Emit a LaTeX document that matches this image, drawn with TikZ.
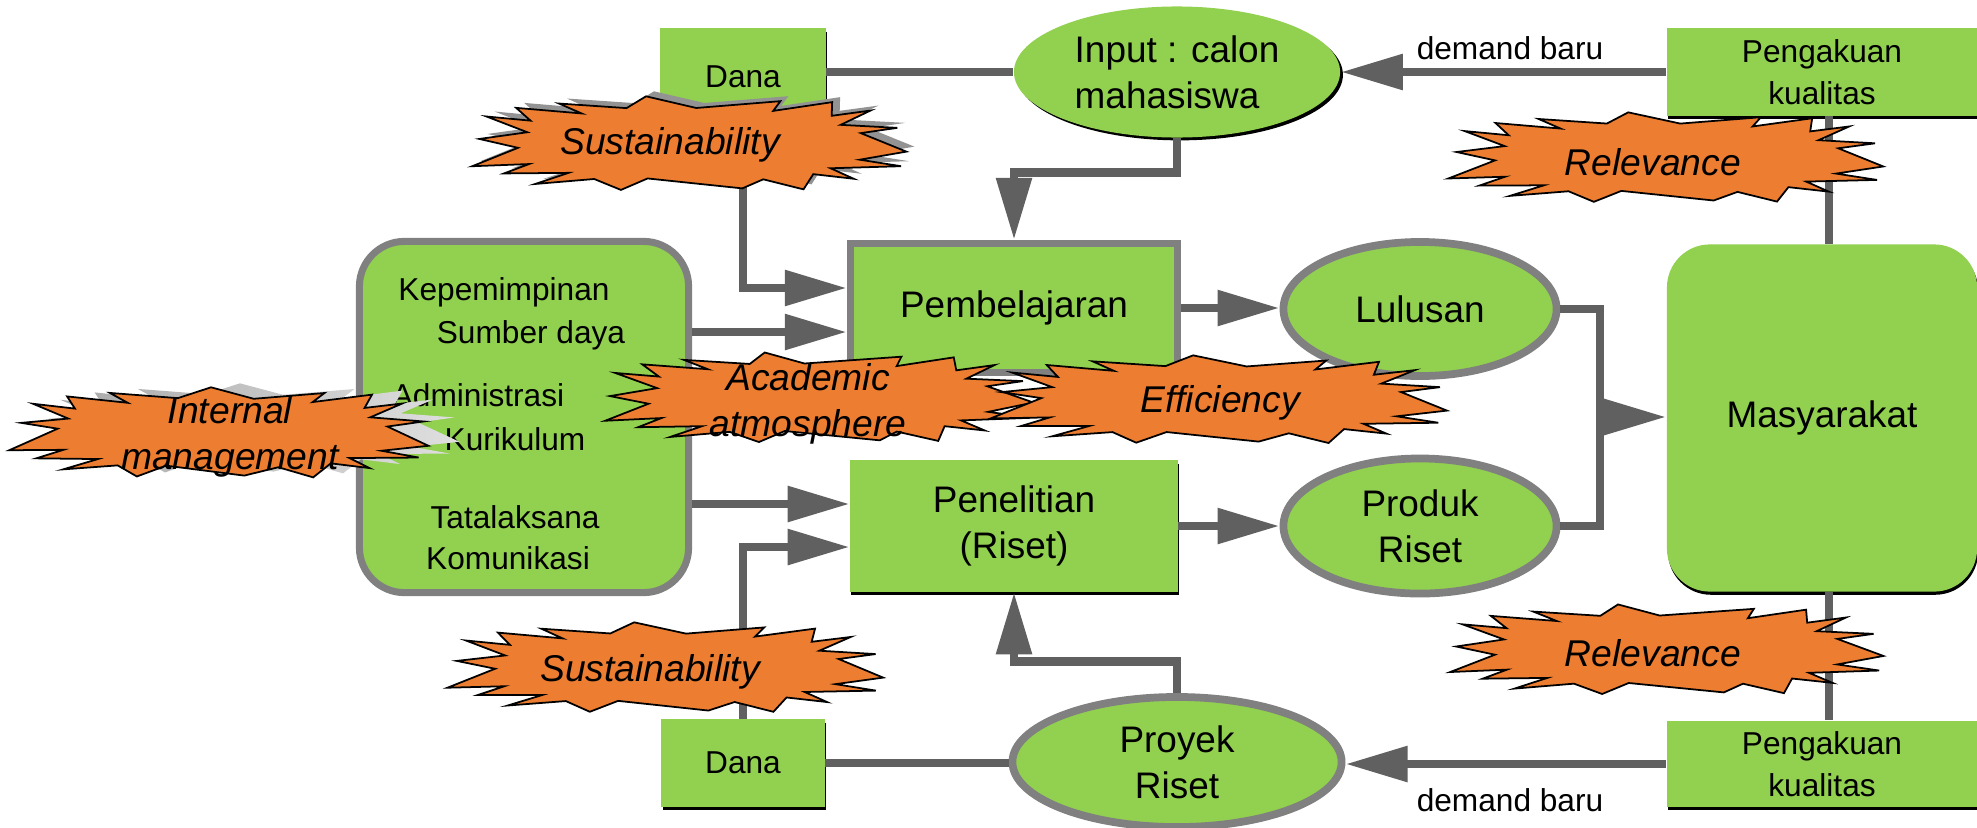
\documentclass[tikz,border=0pt]{standalone}
\usepackage{fontspec}
\setmainfont{Liberation Sans}
\usetikzlibrary{arrows.meta,shapes.geometric,shadows}

\definecolor{boxgreen}{RGB}{146,208,80}
\definecolor{burstorange}{RGB}{237,125,49}
\definecolor{linegray}{RGB}{96,96,96}
\definecolor{rimgray}{RGB}{128,128,128}

\tikzset{
  bigtext/.style={font=\fontsize{10.5}{13}\selectfont},
  smalltext/.style={font=\fontsize{9}{12}\selectfont},
  flatbox/.style={rectangle, fill=boxgreen, inner sep=0pt, align=center,
    drop shadow={shadow xshift=0.3pt, shadow yshift=-0.9pt, opacity=1, fill=black}},
  rimbox/.style={rectangle, fill=boxgreen, draw=rimgray, line width=2pt, inner sep=0pt, align=center},
  rimoval/.style={ellipse, fill=boxgreen, draw=rimgray, line width=2.2pt, inner sep=0pt, align=center, bigtext},
  link/.style={draw=linegray, line width=2.5pt},
  flow/.style={link, -{Triangle[length=6.2mm, width=3.4mm]}},
  burstfill/.style={fill=burstorange, draw=black, line width=0.5pt, line join=miter},
  bursttext/.style={inner sep=0pt, align=center, font=\fontsize{10.6}{13}\selectfont\itshape},
  declare function={sqc(\t)=sign(cos(\t))*pow(abs(cos(\t))+0.001,0.7);
                    sqs(\t)=sign(sin(\t))*pow(abs(sin(\t))+0.001,0.7);},
  % jagged explosion outline: half width, half height, phase
  pics/burst/.style n args={3}{code={
    \path[pic actions] plot[samples at={0,...,35}, variable=\k]
      ({#1*(1-0.22*mod(\k,2))*(1+0.04*sin(\k*73+#3))*sqc(\k*10+#3+4*sin(\k*131+#3))},
       {#2*(1-0.22*mod(\k,2))*(1+0.04*sin(\k*73+#3))*sqs(\k*10+#3+4*sin(\k*131+#3))}) -- cycle;
  }},
}

\begin{document}
\begin{tikzpicture}[x=0.01cm, y=-0.01cm]
\useasboundingbox (0,0) rectangle (1977,827);

% top row
\node[flatbox, smalltext, minimum width=1.65cm, minimum height=0.97cm] (danaT) at (743,77) {Dana};
\node[ellipse, fill=boxgreen, inner sep=0pt, align=left, bigtext,
  drop shadow={shadow xshift=0.8pt, shadow yshift=-0.8pt, opacity=1, fill=black},
  minimum width=3.26cm, minimum height=1.31cm] (input) at (1177,72) {Input : calon\\mahasiswa};
\node[flatbox, smalltext, minimum width=3.1cm, minimum height=0.87cm] (pengT) at (1822,72) {Pengakuan\\kualitas};
\node[smalltext] (demT) at (1510,48) {demand baru};

% middle
\node[rimbox, bigtext, minimum width=3.27cm, minimum height=1.29cm] (pemb) at (1014,308) {Pembelajaran};
\node[rimoval, minimum width=2.73cm, minimum height=1.34cm] (lulus) at (1420,309) {Lulusan};
\node[flatbox, bigtext, minimum width=3.27cm, minimum height=1.31cm] (pen) at (1014,526) {Penelitian\\(Riset)};
\node[rimoval, minimum width=2.73cm, minimum height=1.35cm] (produk) at (1420,526) {Produk\\Riset};
\node[flatbox, bigtext, rounded corners=0.43cm, minimum width=3.1cm, minimum height=3.47cm] (masy) at (1822,418) {Masyarakat};

% management block
\node[rimbox, rounded corners=0.45cm, minimum width=3.29cm, minimum height=3.51cm] (mgmt) at (524,417) {};
\foreach \name/\pos/\txt in {kep/{504,292}/Kepemimpinan, sum/{531,335}/Sumber daya,
    adm/{478,395}/Administrasi, kur/{515,439}/Kurikulum,
    tata/{515,517}/Tatalaksana, kom/{508,558}/Komunikasi}
  \node[smalltext] (\name) at (\pos) {\txt};

% bottom row
\node[flatbox, smalltext, minimum width=1.63cm, minimum height=0.87cm] (danaB) at (743,763) {Dana};
\node[rimoval, minimum width=3.29cm, minimum height=1.3cm] (proyek) at (1177,762) {Proyek\\Riset};
\node[flatbox, smalltext, minimum width=3.1cm, minimum height=0.86cm] (pengB) at (1822,764) {Pengakuan\\kualitas};
\node[smalltext] (demB) at (1510,800) {demand baru};

% connectors
\coordinate (pembA) at ([yshift=2mm]pemb.west);
\coordinate (pembB) at ([yshift=-2.4mm]pemb.west);
\coordinate (penA) at ([yshift=2.2mm]pen.west);
\coordinate (penB) at ([yshift=-2.1mm]pen.west);
\coordinate (join) at (1600,417);

\draw[link] (danaT.east |- input.west) -- (input.west);
\draw[flow] (pengT.west) -- (input.east);
\draw[flow] (input.south) -- ++(0,34) -| (pemb.north);
\draw[flow] (danaT.south) |- (pembA);
\draw[flow] (mgmt.east |- pembB) -- (pembB);
\draw[flow] (mgmt.east |- penA) -- (penA);
\draw[flow] (danaB.north) |- (penB);
\draw[flow] (pemb.east) -- (pemb.east -| lulus.west);
\draw[flow] (pen.east) -- (pen.east -| produk.west);
\draw[link] (lulus.east) -| (join) |- (produk.east);
\draw[flow] (join) -- (join -| masy.west);
\draw[link] ([xshift=0.7mm]pengT.south) -- ([xshift=0.7mm]masy.north);
\draw[link] ([xshift=0.7mm]masy.south) -- ([xshift=0.7mm]pengB.north);
\draw[flow] (pengB.west) -- (pengB.west -| proyek.east);
\draw[link] (danaB.east) -- (danaB.east -| proyek.west);
\draw[flow] (proyek.north) -- ++(0,-32) -| (pen.south);

% shadows behind two bursts
\pic[fill=rimgray!85] at (697,139) {burst={217}{46}{4}};
\pic[left color=gray!70, right color=gray!25] at (250,429) {burst={210}{44}{9}};

% bursts with their texts
\foreach \name/\pos/\tpos/\txt/\hw/\hh/\ph in {
    susT/{689,144}/{670,145}/Sustainability/217/46/4,
    internal/{221,433}/{230,437}/{Internal\\management}/208/44/9,
    academic/{818,398}/{808,404}/{Academic\\atmosphere}/215/44/2,
    efficiency/{1220,400}/{1220,403}/Efficiency/227/43/7,
    relT/{1666,158}/{1653,162}/Relevance/217/44/5,
    relB/{1666,650}/{1653,653}/Relevance/217/44/3,
    susB/{666,668}/{650,672}/Sustainability/217/44/6
} {
  \pic[burstfill] at (\pos) {burst={\hw}{\hh}{\ph}};
  \node[bursttext] (\name) at (\tpos) {\txt};
}
\end{tikzpicture}
\end{document}
